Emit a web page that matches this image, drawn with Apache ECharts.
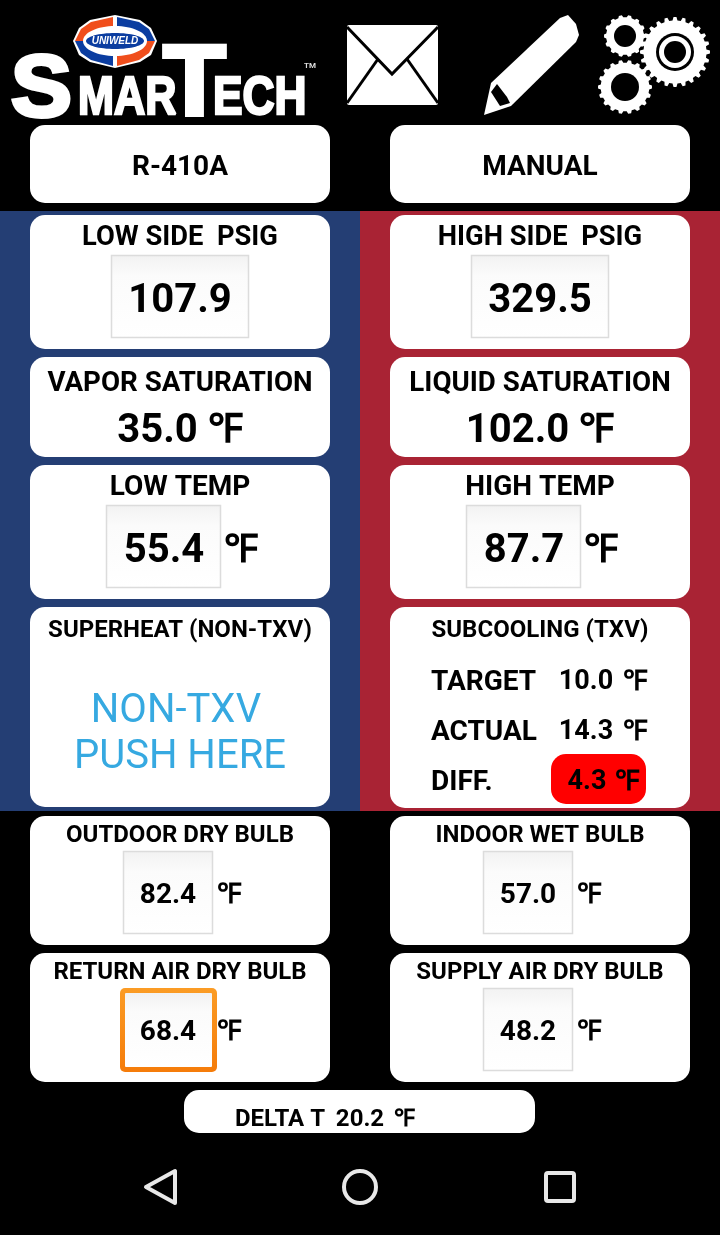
<!DOCTYPE html>
<html>
<head>
<meta charset="utf-8">
<style>
  html, body { margin: 0; padding: 0; background: #000; }
  #main { width: 720px; height: 1235px; }
</style>
<script src="https://cdn.jsdelivr.net/npm/echarts@6/dist/echarts.min.js"></script>
</head>
<body>
<div id="main"></div>
<script>
// readings off the screen
const modeLabels = ['R-410A', 'MANUAL'];
const pressureLabels = ['LOW SIDE  PSIG', 'HIGH SIDE  PSIG'];
const pressureValues = ['107.9', '329.5'];
const saturationLabels = ['VAPOR SATURATION', 'LIQUID SATURATION'];
const saturationValues = ['35.0 ℉', '102.0 ℉'];
const lineTempLabels = ['LOW TEMP', 'HIGH TEMP'];
const lineTempValues = ['55.4', '87.7'];
const chargeLabels = ['SUPERHEAT (NON-TXV)', 'SUBCOOLING (TXV)'];
const nonTxvLines = ['NON-TXV', 'PUSH HERE'];
const subcoolLabels = ['TARGET', 'ACTUAL', 'DIFF.'];
const subcoolValues = ['10.0', '14.3', '4.3'];
const airLabels = ['OUTDOOR DRY BULB', 'INDOOR WET BULB', 'RETURN AIR DRY BULB', 'SUPPLY AIR DRY BULB'];
const airValues = ['82.4', '57.0', '68.4', '48.2'];
const deltaLabel = 'DELTA T';
const deltaValue = '20.2';
const unit = '℉';

const FONT = 'Roboto, sans-serif';
const LOGO_FONT = '"Liberation Sans", Arial, sans-serif';
const BLUE = '#243e74';
const RED = '#a92334';
let g = [];

function rect(x, y, w, h, r, fill, extra) {
  g.push({ type: 'rect', shape: { x, y, width: w, height: h, r }, style: Object.assign({ fill }, extra) });
}
function card(x, y, w, h) {
  rect(x, y, w, h, 15, '#fff');
}
// y is the visual middle of the capitals, the 0.1 moves the em box down to it
function label(str, x, y, size, extra) {
  g.push({
    type: 'text', x, y: y + size * 0.1,
    style: Object.assign({
      text: str, fill: '#000', font: 'bold ' + size + 'px ' + FONT,
      textAlign: 'center', textVerticalAlign: 'middle'
    }, extra)
  });
}
function inputBox(x, y, w, h, focused) {
  const fill = {
    type: 'linear', x: 0, y: 0, x2: 0, y2: 1,
    colorStops: [{ offset: 0, color: '#f2f2f2' }, { offset: 0.25, color: '#fbfbfb' }, { offset: 1, color: '#fff' }]
  };
  if (focused) {
    rect(x, y, w, h, 5, {
      type: 'linear', x: 0, y: 0, x2: 0, y2: 1,
      colorStops: [{ offset: 0, color: '#fb9c25' }, { offset: 1, color: '#f57c0a' }]
    });
    rect(x + 5, y + 5, w - 10, h - 10, 1, fill);
  } else {
    rect(x + 0.5, y + 0.5, w - 1, h - 1, 0, fill, { stroke: '#dcdcdc', lineWidth: 1.5 });
  }
}
function logoText(str, x, y, size, sx, weight) {
  g.push({
    type: 'text', x, y: y + size * 0.1, scaleX: sx, scaleY: 1,
    style: {
      text: str, fill: '#fff', font: 'bold ' + size + 'px ' + LOGO_FONT,
      textAlign: 'left', textVerticalAlign: 'middle', stroke: '#fff', lineWidth: weight
    }
  });
}
function gearPoints(cx, cy, r, teeth) {
  const pts = [];
  const depth = r * 0.1;
  for (let i = 0; i < teeth; i++) {
    const a = (i / teeth) * Math.PI * 2;
    const step = (Math.PI * 2) / teeth;
    [[-0.3, r - depth], [-0.16, r], [0.16, r], [0.3, r - depth]].forEach(function (p) {
      pts.push([cx + Math.cos(a + p[0] * step) * p[1], cy + Math.sin(a + p[0] * step) * p[1]]);
    });
  }
  return pts;
}
function poly(points, fill) {
  g.push({ type: 'polygon', shape: { points }, style: { fill } });
}
function circle(cx, cy, r, fill) {
  g.push({ type: 'circle', shape: { cx, cy, r }, style: { fill } });
}
function stroke(points, color, width) {
  g.push({ type: 'polyline', shape: { points }, style: { stroke: color, lineWidth: width, fill: null, lineJoin: 'miter' } });
}

// ---- logo
logoText('S', 11, 83, 87, 1.05, 4);
logoText('MAR', 78, 94, 54, 0.8, 2.5);
logoText('T', 163, 77, 101, 1.02, 4);
logoText('ECH', 213, 94, 54, 0.82, 2.5);
label('TM', 310, 65, 8, { fill: '#ddd' });
poly([[115, 15], [140, 20], [151, 28], [157, 41], [151, 55], [140, 62], [115, 68], [90, 62], [79, 55], [73, 41], [79, 28], [90, 20]], '#fff');
poly([[113, 17], [91, 22], [81, 29], [75, 41], [113, 41]], '#f04e1c');
poly([[117, 17], [139, 22], [149, 29], [155, 41], [117, 41]], '#0b3da0');
poly([[113, 66], [91, 60], [81, 53], [75, 41], [113, 41]], '#0b3da0');
poly([[117, 66], [139, 60], [149, 53], [155, 41], [117, 41]], '#f04e1c');
g.push({ type: 'ellipse', shape: { cx: 115, cy: 41, rx: 32, ry: 15 }, style: { fill: '#fff' } });
g.push({ type: 'ellipse', shape: { cx: 115, cy: 41, rx: 29, ry: 8 }, style: { fill: '#0b3da0' } });
label('UNIWELD', 115, 40, 10, { fill: '#fff', font: 'bold italic 10px ' + LOGO_FONT });

// ---- envelope
rect(347, 25, 91, 80, 2, '#fff');
stroke([[347, 27], [392, 74], [438, 27]], '#000', 3);
stroke([[347, 103], [378, 59]], '#000', 3);
stroke([[438, 103], [407, 59]], '#000', 3);

// ---- pencil
poly([[484, 115], [491, 83], [560, 18], [568, 15], [576, 24], [579, 35], [576, 42], [511, 106]], '#fff');
poly([[491, 92], [497, 84], [507, 97], [510, 103], [500, 106]], '#000');

// ---- gears
poly(gearPoints(625, 36, 21, 14), '#fff');
circle(625, 36, 11, '#000');
poly(gearPoints(675, 52, 35, 24), '#fff');
circle(675, 52, 19, '#000');
circle(675, 52, 16, '#fff');
circle(675, 52, 11, '#000');
poly(gearPoints(625, 87, 27, 18), '#fff');
circle(625, 87, 14, '#000');

// ---- mode buttons
card(30, 125, 300, 78);
card(390, 125, 300, 78);
label(modeLabels[0], 180, 165, 28);
label(modeLabels[1], 540, 165, 28);

// ---- side panels
rect(0, 211, 360, 600, 0, BLUE);
rect(360, 211, 360, 600, 0, RED);

[0, 1].forEach(function (i) {
  const x = 30 + i * 360;
  const cx = x + 150;
  const boxLow = 111 + i * 360;
  const boxTemp = 106 + i * 360;

  card(x, 215, 300, 134);
  label(pressureLabels[i], cx, 235, 27.3);
  inputBox(boxLow, 255, 138, 83);
  label(pressureValues[i], cx, 298, 40);

  card(x, 357, 300, 100);
  label(saturationLabels[i], cx, 381, 27.7);
  label(saturationValues[i], cx, 428, 40);

  card(x, 465, 300, 134);
  label(lineTempLabels[i], cx, 485, 28);
  inputBox(boxTemp, 505, 115, 83);
  label(lineTempValues[i], boxTemp + 58, 548, 40);
  label(unit, boxTemp + 135, 548, 39);
});

// ---- superheat card
card(30, 607, 300, 200);
label(chargeLabels[0], 180, 629, 24);
label(nonTxvLines[0], 176, 708, 40, { fill: '#36a9e1', font: '40px ' + FONT });
label(nonTxvLines[1], 180, 754, 40, { fill: '#36a9e1', font: '40px ' + FONT });

// ---- subcooling card
card(390, 607, 300, 201);
label(chargeLabels[1], 540, 629, 24);
rect(551, 754, 95, 50, 15, '#ff0000');
subcoolLabels.forEach(function (name, i) {
  const y = 680 + i * 50;
  label(name, 431, y, 28, { textAlign: 'left' });
  label(subcoolValues[i], i === 2 ? 587 : 586, y, 27);
  label(unit, i === 2 ? 627 : 635, y, 28);
});

// ---- air temperature cards
[[30, 816, 129, 123, 851, 90, 83, 106], [390, 816, 129, 483, 851, 90, 83, 106],
 [30, 953, 129, 120, 988, 97, 84, 109], [390, 953, 129, 483, 988, 90, 83, 106]].forEach(function (c, i) {
  card(c[0], c[1], 300, c[2]);
  label(airLabels[i], c[0] + 150, c[1] + 18, 24);
  inputBox(c[3], c[4], c[5], c[6], i === 2);
  label(airValues[i], c[3] + 45 + (i === 2 ? 3 : 0), c[4] + 42, 28);
  label(unit, c[3] + c[7], c[4] + 42, 28);
});

// ---- delta T
card(184, 1090, 351, 43);
label(deltaLabel, 280, 1118, 24);
label(deltaValue, 360, 1118, 24);
label(unit, 404, 1118, 24);

// ---- android nav bar
g.push({ type: 'polygon', shape: { points: [[146, 1187], [175, 1171], [175, 1203]] }, style: { fill: null, stroke: '#e8e8e8', lineWidth: 4, lineJoin: 'round' } });
g.push({ type: 'circle', shape: { cx: 360, cy: 1187, r: 16 }, style: { fill: null, stroke: '#e8e8e8', lineWidth: 4 } });
g.push({ type: 'rect', shape: { x: 546, y: 1173, width: 28, height: 28, r: 2 }, style: { fill: null, stroke: '#e8e8e8', lineWidth: 4 } });

const chart = echarts.init(document.getElementById('main'), null, { renderer: 'canvas' });
chart.setOption({
  backgroundColor: '#000',
  animation: false,
  graphic: { elements: g }
});
</script>
</body>
</html>
